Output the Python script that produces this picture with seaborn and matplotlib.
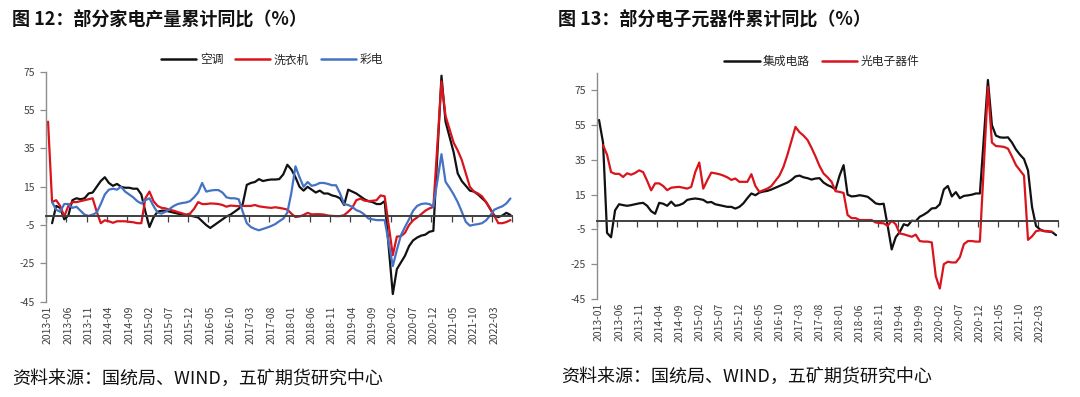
import numpy as np
import pandas as pd
import matplotlib
matplotlib.use("Agg")
import matplotlib.pyplot as plt
import seaborn as sns

nan = np.nan
# ---- months 2013-01 .. 2022-07 ----
months = pd.period_range("2013-01", "2022-07", freq="M").strftime("%Y-%m").tolist()
tick_labels = months[::5]  # 2013-01, 2013-06, ... 2022-03

# ---- left chart: 部分家电产量累计同比 ----
ac = [nan, -4, 5, 4, -2, 0, 8, 9, 8.5, 9, 11.5, 12, 15, 18, 20, 17, 15.5, 16.5, 15, 14.5,
      14.5, 14, 14, 11, 2, -6, -1, 2, 2.5, 2.5, 2, 1.5, 1, 0.5, 0, 0, -0.5, -1, -3, -5,
      -6.5, -5, -3.5, -2, -0.5, 0.5, 2, 3.5, 6, 16, 17, 17.5, 19, 18, 18.5, 18.8, 18.8, 19, 21.5, 26.5,
      24, 20, 15, 13, 15, 13.5, 12, 13, 11.5, 11.5, 10.5, 10, 9, 5.5, 13.5, 12.5, 11.5, 10, 8.5, 7.5,
      7, 6, 6, 7.5, nan, -41, -28, -24.5, -21, -16, -13, -11.5, -10.5, -10, -8.5, -8, nan, 73, 49, 41,
      33, 22, 18, 15.5, 13, 12.5, 11, 9, 7, 3.5, 0, -0.8, 0, 1.4, 0.3]
washer = [49, 7, 8, 5, -0.5, 5, 7, 7, 7.5, 8, 8.5, 9, 2, -4, -2.5, -3, -3.8, -3, -3, -3,
          -3.3, -3.5, -4, -4, 9, 12.5, 7.5, 5, 4, 3.7, 3, 2.5, 1.8, 1.2, 0.5, 1, 3.5, 7, 6, 6,
          6.3, 6.2, 6, 5.5, 4.6, 5.2, 5, 4.9, 5, 5, 5, 5.5, 4.8, 4.5, 4.2, 4, 4.3, 4, 3.6, 3.1,
          1, -0.8, -0.5, 0.3, 1.4, 0.6, 0.7, 0.7, 0.5, 0, -0.2, -0.3, -0.3, 0.2, 2, 4, 8, 8.8, 7.8, 7.5,
          7.7, 8, 10.5, 10, nan, -20.7, -11, -10.8, -9, -5, -2.5, -1, 0.7, 2.5, 3.7, 4.5, nan, 70, 52, 45,
          38, 34, 29, 22, 15, 12.5, 11.5, 10, 7, 3.5, 0, -4, -4, -3.4, -2.4]
tv = [nan, 7, 3, 2, 6, 6, 4, 4.6, 2.5, 0.5, -0.2, 0.5, 1.5, 6, 11, 13.5, 14, 13.5, 15, 12.5,
      11, 9.5, 7.5, 6.3, 8, 9, 5, 1.5, 1, 2, 3.5, 5, 6, 6.5, 6.8, 7.5, 9.5, 12, 17, 12.5,
      13, 13.3, 13.3, 12, 9.5, 9, 9, 8.5, 2, -4, -6, -7, -7.7, -7, -6.3, -5.5, -4.5, -3, -1.6, 1.5,
      12, 25.7, 20, 15, 17.5, 15.5, 16, 17, 17, 16.5, 15.8, 15.8, 11.5, 6, 5.5, 4.5, 2.8, 2, 0.5, -1.6,
      -2, -2.4, -2.4, -2.4, nan, -26.4, -18, -10.3, -6, -2, 2.5, 5, 6, 6.3, 6, 4.6, nan, 32, 17.6, 14.5,
      11, 7, 2, -3.3, -5.3, -4.8, -4.5, -4, -2.5, 0, 3, 4, 4.8, 6.3, 8.9]

# ---- right chart: 部分电子元器件累计同比 ----
ic = [58, 45, -7, -9.5, 6, 9.5, 9, 8.6, 9, 9.5, 10, 10.3, 8.6, 5.5, 4, 10.3, 9.8, 8.6, 11, 8.6,
      9, 10, 12, 12.5, 12.8, 12.5, 12, 10.5, 10.8, 9.5, 9, 8.5, 8, 8, 7, 8, 10, 13, 15.7, 14.7,
      16.2, 16.8, 17.2, 18, 19, 20, 21, 22, 23.5, 25.5, 26, 25, 24.5, 23.7, 24.3, 24.5, 22, 20.5, 19.5, 18,
      26, 32, 15, 14, 14.2, 14.7, 14.3, 13.8, 12, 10, 9.5, 9.8, -3, -16.5, -9.5, -6.5, -2, -2.8, 0, -0.2,
      2.3, 3.5, 5, 7.1, 7.3, 9.5, 18, 20, 14, 16.5, 13, 14.3, 14.6, 15, 15.7, 15.7, nan, 81, 55, 49,
      48, 47.8, 48, 45, 41, 38, 35.5, 29, 8, -3, -5, -6, -6.2, -6.5, -8.3]
opto = [nan, 43.5, 38, 28, 27, 27, 25.2, 27.3, 26.5, 27.5, 29, 28, 23, 17.5, 21.5, 21.5, 20, 17.6, 19, 19.3,
        19.5, 19, 18.5, 19.5, 28, 33.5, 18.5, 23.3, 27.7, 27.3, 26.8, 26, 25, 23.5, 24.3, 22.4, 22.4, 22.4, 26.8, 20,
        16.6, 17.6, 18.5, 20, 23, 26, 31, 38, 46, 54, 51, 49, 46.5, 42, 37, 31.5, 27.2, 25, 22.4, 17,
        16.6, 16, 3.3, 1.5, 1.5, 0.4, 0.4, 0.4, 0.4, -1, -1.3, -1.5, -2.9, 0, -2, -7.3, -7.8, -8.5, -9.2, -8,
        -11.7, -12, -12, -12.5, -32, -39, -25, -23.6, -24, -24, -21, -13.5, -11.7, -11.7, -12, -12, nan, 77, 45, 43,
        42.8, 42.5, 41.5, 37, 32, 29, 26, -11, -9, -6, -5.5, -5.8, -6, -6.3]

y_ticks = [-45, -25, -5, 15, 35, 55, 75]

left_series = ["空调", "洗衣机", "彩电"]
right_series = ["集成电路", "光电子器件"]
colors = {"空调": "#111111", "洗衣机": "#D9141C", "彩电": "#4472C4",
          "集成电路": "#111111", "光电子器件": "#D9141C"}

sns.set_theme(style="white")
plt.rcParams["font.family"] = ["Noto Sans CJK SC", "DejaVu Sans"]
plt.rcParams["axes.unicode_minus"] = False

fig = plt.figure(figsize=(10.8, 3.97), dpi=100)
axL = fig.add_axes([0.0426, 0.240, 0.4319, 0.579])
axR = fig.add_axes([0.5528, 0.247, 0.4269, 0.569])


def long_df(names, arrays):
    frames = []
    for n, a in zip(names, arrays):
        d = pd.DataFrame({"idx": np.arange(len(a)), "val": a, "series": n})
        frames.append(d.dropna())
    return pd.concat(frames, ignore_index=True)


def draw(ax, names, arrays, ylim, legend_xy):
    df = long_df(names, arrays)
    sns.lineplot(data=df, x="idx", y="val", hue="series", hue_order=names,
                 palette=colors, estimator=None, sort=False, linewidth=1.6, ax=ax)
    h, l = ax.get_legend_handles_labels()
    ax.get_legend().remove()
    leg = fig.legend(h, l, loc="center", bbox_to_anchor=legend_xy, ncol=len(names),
                     frameon=False, fontsize=8.5, handlelength=3.0, handletextpad=0.3,
                     columnspacing=1.0)
    for line in leg.get_lines():
        line.set_linewidth(1.8)
    ax.set_xlim(-0.5, len(months) - 0.5)
    ax.set_ylim(*ylim)
    ax.set_yticks(y_ticks)
    ax.set_yticklabels([str(v) for v in y_ticks])
    ax.set_xlabel("")
    ax.set_ylabel("")
    for s in ["top", "right"]:
        ax.spines[s].set_visible(False)
    ax.spines["left"].set_color("#8c8c8c")
    ax.spines["left"].set_linewidth(1.0)
    ax.tick_params(axis="y", direction="out", length=4, width=0.9, color="#8c8c8c",
                   labelsize=7.5, labelcolor="#404040", pad=4, left=True)
    # horizontal axis line crosses at 0 with tick marks
    ax.spines["bottom"].set_position(("data", 0))
    ax.spines["bottom"].set_color("#404040")
    ax.spines["bottom"].set_linewidth(1.4)
    ax.set_xticks(np.arange(-0.5, len(months), 5))
    ax.tick_params(axis="x", direction="out", length=4, width=0.9, color="#404040",
                   labelbottom=False, bottom=True)
    # category labels at the low end
    sec = ax.secondary_xaxis(0.0)
    sec.set_xticks(np.arange(0, len(months), 5))
    sec.set_xticklabels(tick_labels, rotation=90)
    sec.tick_params(axis="x", length=0, labelsize=7.5, labelcolor="#404040", pad=3)
    sec.spines["bottom"].set_visible(False)


draw(axL, left_series, [ac, washer, tv], (-45, 75), (0.252, 0.849))
draw(axR, right_series, [ic, opto], (-45, 85), (0.761, 0.846))

fig.text(0.011, 0.952, "图 12：部分家电产量累计同比（%）", fontsize=13, fontweight="bold",
         ha="left", va="center", color="#111111")
fig.text(0.517, 0.952, "图 13：部分电子元器件累计同比（%）", fontsize=13, fontweight="bold",
         ha="left", va="center", color="#111111")
src = "资料来源：国统局、WIND，五矿期货研究中心"
fig.text(0.011, 0.045, src, fontsize=13, ha="left", va="center", color="#111111")
fig.text(0.520, 0.050, src, fontsize=13, ha="left", va="center", color="#111111")

fig.savefig("out.png", dpi=100)
